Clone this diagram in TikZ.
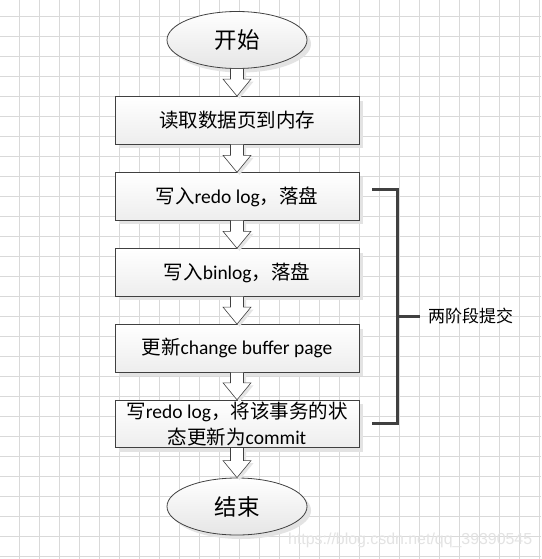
\documentclass[tikz,border=0pt]{standalone}
\usepackage{fontspec}
\usepackage{xcolor}
\setmainfont{Carlito}
\newfontfamily\cjk{Noto Sans CJK SC}
\newfontfamily\wmfont{Liberation Sans}
\usetikzlibrary{shapes.geometric,shadows,calc}

\definecolor{edgegray}{HTML}{404040}
\definecolor{gridgray}{HTML}{D9D9D9}

\tikzset{
  gridline/.style={draw=gridgray, line width=0.9pt},
  procbox/.style={rectangle, draw=edgegray, line width=0.9pt,
    minimum width=244pt, minimum height=47.5pt, inner sep=0pt,
    top color=white, bottom color=gray!14,
    drop shadow={shadow xshift=4pt, shadow yshift=-4pt, fill=gray!22, opacity=1},
    align=center, font=\fontsize{19.5}{26.5}\selectfont},
  terminal/.style={ellipse, draw=edgegray, line width=0.8pt,
    minimum width=140pt, minimum height=57pt, inner sep=0pt,
    top color=white, bottom color=gray!20,
    drop shadow={shadow xshift=4pt, shadow yshift=-4pt, fill=gray!22, opacity=1},
    font=\fontsize{22.5}{27}\selectfont},
  flowarrow/.style={draw=edgegray, line width=0.6pt, fill=white,
    drop shadow={shadow xshift=2.5pt, shadow yshift=-2.5pt, fill=gray!20, opacity=1}},
  bracket/.style={draw=edgegray, line width=3pt},
  phase/.style={inner sep=0pt, font=\fontsize{17}{20}\selectfont\cjk},
  watermark/.style={inner sep=0pt, text=gray!22, font=\fontsize{15.9}{18}\selectfont\wmfont},
}

% hollow block arrow from one node down to the next
\newcommand\flowarr[2]{%
  \draw[flowarrow] let \p1=(#1.south), \p2=(#2.north) in
    (\x1-6.5pt,\y1) -- (\x1-6.5pt,\y2+17pt) -- (\x1-14pt,\y2+17pt) -- (\x2,\y2)
    -- (\x1+14pt,\y2+17pt) -- (\x1+6.5pt,\y2+17pt) -- (\x1+6.5pt,\y1);
}

\begin{document}
\begin{tikzpicture}[x=1pt, y=-1pt]
  \useasboundingbox (0,0) rectangle (541,559);
  \fill[white] (0,0) rectangle (541,559);
  % background grid
  \foreach \gx in {19.5,39.5,...,539.5}
    \draw[gridline] (\gx,0) -- (\gx,559);
  \foreach \gy in {16,36,...,556}
    \draw[gridline] (0,\gy) -- (541,\gy);

  % steps
  \node[terminal] (start) at (237,40) {\cjk 开始};
  \node[procbox] (readpage) at (237,120.3) {\cjk 读取数据页到内存};
  \node[procbox] (redolog) at (237,196.5) {{\cjk 写入}redo log{\cjk ，落盘}};
  \node[procbox] (binlog) at (237,272.5) {{\cjk 写入}binlog{\cjk ，落盘}};
  \node[procbox] (cbuffer) at (237,348.3) {{\cjk 更新}change buffer page};
  \node[procbox] (commit) at (237,424) {{\cjk 写}redo log{\cjk ，将该事务的状}\\{\cjk 态更新为}commit};
  \node[terminal] (finish) at (237,506.5) {\cjk 结束};

  \flowarr{start}{readpage}
  \flowarr{readpage}{redolog}
  \flowarr{redolog}{binlog}
  \flowarr{binlog}{cbuffer}
  \flowarr{cbuffer}{commit}
  \flowarr{commit}{finish}

  % two-phase commit bracket
  \coordinate (brtop) at (372,189);
  \coordinate (brbot) at (372,423.3);
  \coordinate (brmid) at (397,316);
  \node[phase, anchor=west] (twopc) at (428,316) {两阶段提交};
  \draw[bracket] (brtop) -| (brmid) |- (brbot);
  \draw[bracket, shorten >=8pt] (brmid) -- (twopc.west);

  \node[watermark, anchor=west] (wm) at (288,540) {https://blog.csdn.net/qq\_39390545};
\end{tikzpicture}
\end{document}
